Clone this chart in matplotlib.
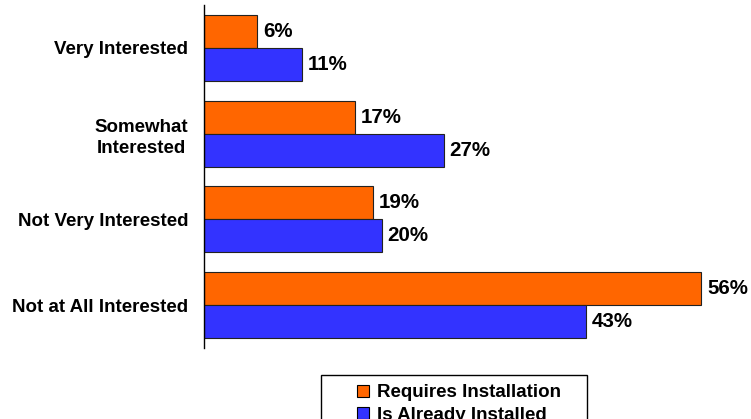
import numpy as np
import matplotlib.pyplot as plt
from matplotlib.patches import Rectangle

plt.rcParams['font.family'] = ['Liberation Sans', 'DejaVu Sans']
plt.rcParams['font.weight'] = 'bold'

# data
categories = ["Very Interested", "Somewhat\nInterested", "Not Very Interested", "Not at All Interested"]
requires_install = [6, 17, 19, 56]
already_installed = [11, 27, 20, 43]
series_names = ["Requires Installation", "Is Already Installed"]

ORANGE = "#FF6600"
BLUE = "#3333FF"

W, H = 751, 419
fig = plt.figure(figsize=(W / 100, H / 100), dpi=100)
ax = fig.add_axes([204 / W, 1 - 348 / H, 540 / W, 343 / H])

y = np.arange(len(categories))
h = 0.385

bars1 = ax.barh(y - h / 2, requires_install, height=h, color=ORANGE, edgecolor="#222222", linewidth=0.8,
                label=series_names[0])
bars2 = ax.barh(y + h / 2, already_installed, height=h, color=BLUE, edgecolor="#222222", linewidth=0.8,
                label=series_names[1])

# value labels
for bars, vals in [(bars1, requires_install), (bars2, already_installed)]:
    for b, v in zip(bars, vals):
        ax.text(b.get_width() + 0.65, b.get_y() + b.get_height() / 2, f"{v}%", va="center", ha="left",
                fontsize=14.8, fontweight="bold")

ax.set_xlim(0, 540 / 8.88)
ax.set_ylim(3.5, -0.5)
ax.set_yticks(y)
ax.set_yticklabels(categories, fontsize=13.5, fontweight="bold", multialignment="center", linespacing=1.3)
ax.tick_params(axis="y", length=0, pad=11.5)
ax.set_xticks([])
for s in ["top", "right", "bottom"]:
    ax.spines[s].set_visible(False)
ax.spines["left"].set_linewidth(1.0)

# legend box (extends past the bottom edge like the original)
fig.patches.append(Rectangle((321 / W, 1 - 440 / H), 266 / W, 65 / H, transform=fig.transFigure,
                             facecolor="white", edgecolor="black", linewidth=1.0, zorder=1))
leg = fig.legend(loc="upper left", bbox_to_anchor=(348 / W, 1 - 375 / H), frameon=False,
                 handlelength=0.6, handleheight=0.6, handletextpad=0.45,
                 borderpad=0.0, labelspacing=0.3, prop={"weight": "bold", "size": 13.5})
leg.set_zorder(2)
for hnd in leg.legend_handles:
    hnd.set_edgecolor("black")

fig.savefig("out.png", dpi=100)
